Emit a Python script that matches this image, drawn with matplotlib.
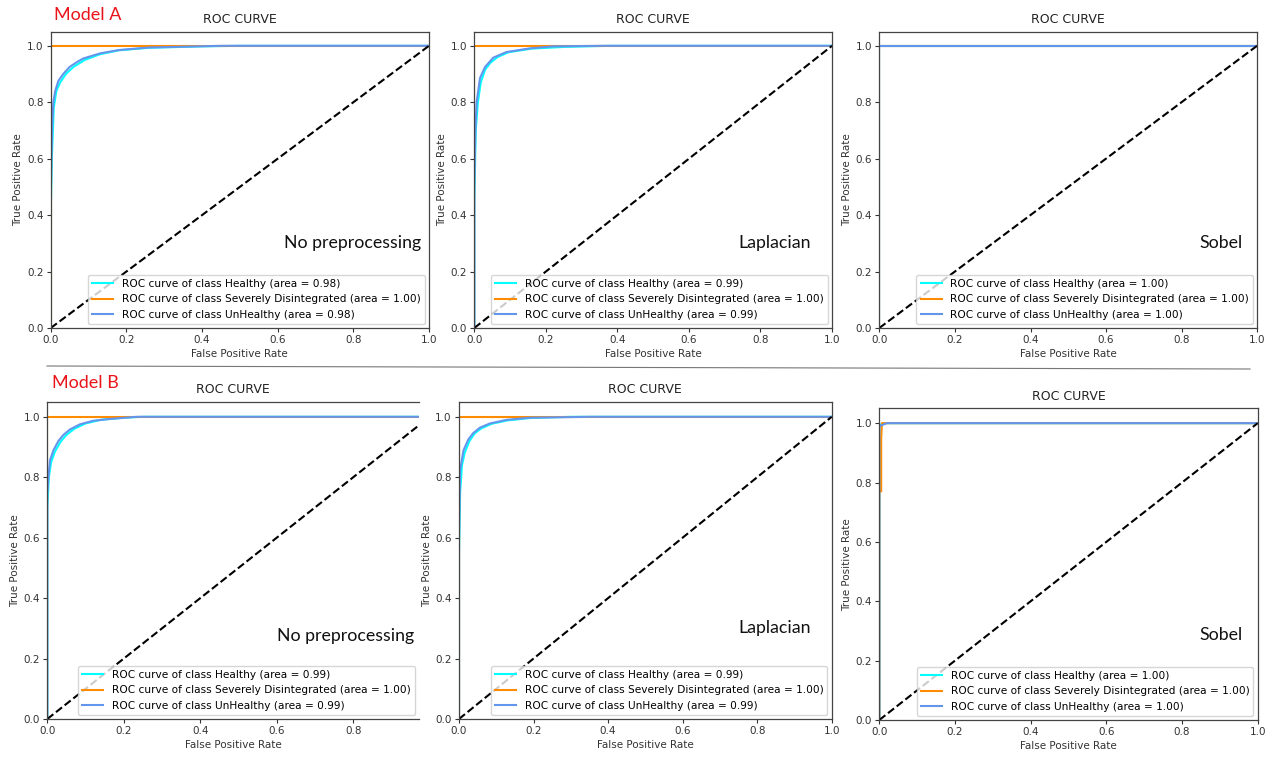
#!/usr/bin/env python3

import matplotlib
matplotlib.use('Agg')
import matplotlib.pyplot as plt
from matplotlib.lines import Line2D

W, H = 1277, 757

class_names = ['Healthy', 'Severely Disintegrated', 'UnHealthy']
class_colors = ['aqua', 'darkorange', 'cornflowerblue']
panel_notes = ['No preprocessing', 'Laplacian', 'Sobel']

areas_a = [[0.98, 1.00, 0.98], [0.99, 1.00, 0.99], [1.00, 1.00, 1.00]]
areas_b = [[0.99, 1.00, 0.99], [0.99, 1.00, 0.99], [1.00, 1.00, 1.00]]

# ROC points (fpr list, tpr list)
a_nopre_healthy = ([0, 0, 0.003, 0.008, 0.015, 0.025, 0.04, 0.06, 0.09, 0.13, 0.18, 0.26, 0.40, 0.50, 1.0],
                   [0, 0.40, 0.60, 0.78, 0.84, 0.87, 0.90, 0.925, 0.95, 0.97, 0.984, 0.993, 0.998, 1.0, 1.0])
a_nopre_severe = ([0, 0, 1.0], [0, 1.0, 1.0])
a_nopre_unhealthy = ([0, 0, 0.002, 0.004, 0.007, 0.012, 0.02, 0.033, 0.05, 0.07, 0.086, 0.13, 0.18, 0.26, 0.39, 0.45, 1.0],
                     [0, 0.45, 0.60, 0.72, 0.80, 0.84, 0.875, 0.90, 0.925, 0.943, 0.955, 0.973, 0.985, 0.994, 0.998, 1.0, 1.0])

a_lap_healthy = ([0, 0, 0.004, 0.01, 0.018, 0.03, 0.045, 0.065, 0.095, 0.16, 0.25, 0.38, 1.0],
                 [0, 0.45, 0.70, 0.80, 0.87, 0.915, 0.94, 0.96, 0.977, 0.99, 0.996, 1.0, 1.0])
a_lap_severe = ([0, 0, 1.0], [0, 1.0, 1.0])
a_lap_unhealthy = ([0, 0, 0.003, 0.0065, 0.016, 0.03, 0.053, 0.09, 0.156, 0.22, 0.35, 1.0],
                   [0, 0.50, 0.70, 0.80, 0.886, 0.925, 0.958, 0.978, 0.991, 0.998, 1.0, 1.0])

a_sob_healthy = ([0, 0, 1.0], [0, 1.0, 1.0])
a_sob_severe = ([0, 0, 1.0], [0, 1.0, 1.0])
a_sob_unhealthy = ([0, 0, 1.0], [0, 1.0, 1.0])

b_nopre_healthy = ([0, 0, 0.004, 0.01, 0.02, 0.035, 0.05, 0.07, 0.10, 0.14, 0.20, 0.25, 1.0],
                   [0, 0.70, 0.80, 0.85, 0.885, 0.918, 0.94, 0.96, 0.978, 0.99, 0.997, 1.0, 1.0])
b_nopre_severe = ([0, 0, 1.0], [0, 1.0, 1.0])
b_nopre_unhealthy = ([0, 0, 0.003, 0.007, 0.016, 0.029, 0.042, 0.059, 0.085, 0.12, 0.164, 0.234, 1.0],
                     [0, 0.75, 0.80, 0.856, 0.889, 0.92, 0.94, 0.958, 0.975, 0.987, 0.993, 1.0, 1.0])

b_lap_healthy = ([0, 0, 0.003, 0.008, 0.015, 0.028, 0.042, 0.06, 0.088, 0.13, 0.19, 0.30, 1.0],
                 [0, 0.55, 0.75, 0.84, 0.88, 0.92, 0.945, 0.962, 0.977, 0.988, 0.996, 1.0, 1.0])
b_lap_severe = ([0, 0, 1.0], [0, 1.0, 1.0])
b_lap_unhealthy = ([0, 0, 0.003, 0.012, 0.025, 0.038, 0.056, 0.083, 0.128, 0.19, 0.35, 1.0],
                   [0, 0.60, 0.823, 0.889, 0.925, 0.946, 0.964, 0.978, 0.99, 0.997, 1.0, 1.0])

b_sob_healthy = ([0, 0, 0.008, 1.0], [0, 0.99, 1.0, 1.0])
b_sob_severe = ([0, 0, 0.005, 0.005, 0.007, 1.0], [0, 0.77, 0.77, 0.95, 1.0, 1.0])
b_sob_unhealthy = ([0, 0, 0.01, 0.02, 1.0], [0, 0.99, 0.995, 1.0, 1.0])

curves_a = [[a_nopre_healthy, a_nopre_severe, a_nopre_unhealthy],
            [a_lap_healthy, a_lap_severe, a_lap_unhealthy],
            [a_sob_healthy, a_sob_severe, a_sob_unhealthy]]
curves_b = [[b_nopre_healthy, b_nopre_severe, b_nopre_unhealthy],
            [b_lap_healthy, b_lap_severe, b_lap_unhealthy],
            [b_sob_healthy, b_sob_severe, b_sob_unhealthy]]

# panel boxes in pixels: left, top, right, bottom
boxes_a = [(50.7, 31.7, 429, 328), (474.3, 31.7, 832, 328), (879.3, 31.5, 1257.3, 328)]
boxes_b = [(47.3, 401.7, 419, 719), (459, 401.7, 831.7, 719), (879.3, 408.3, 1257.7, 720)]
xmax_b = [0.972, 1.0, 1.0]
# where the method name sits (data coords)
note_pos_a = [(0.98, 0.30), (0.94, 0.30), (0.96, 0.30)]
note_pos_b = [(0.96, 0.275), (0.944, 0.30), (0.96, 0.287)]

plt.rcParams['font.size'] = 7.5
plt.rcParams['axes.linewidth'] = 0.9
plt.rcParams['axes.edgecolor'] = '#444444'
plt.rcParams['xtick.major.size'] = 2.6
plt.rcParams['ytick.major.size'] = 2.6
plt.rcParams['xtick.major.pad'] = 2.6
plt.rcParams['ytick.major.pad'] = 2.6
plt.rcParams['xtick.color'] = '#333333'
plt.rcParams['ytick.color'] = '#333333'

fig = plt.figure(figsize=(W / 100, H / 100), dpi=100)


def px_rect(box):
    l, t, r, b = box
    return [l / W, 1 - b / H, (r - l) / W, (b - t) / H]


def draw_panel(box, curves, areas, note, note_pos, xmax=1.0):
    ax = fig.add_axes(px_rect(box))
    for (fpr, tpr), name, color, area in zip(curves, class_names, class_colors, areas):
        ax.plot(fpr, tpr, color=color, lw=1.5,
                label='ROC curve of class {0} (area = {1:0.2f})'.format(name, area))
    ax.plot([0, 1], [0, 1], 'k--', lw=1.5)
    ax.set_xlim([0.0, xmax])
    ax.set_ylim([0.0, 1.05])
    ax.set_xlabel('False Positive Rate', color='#333333', labelpad=2.5)
    ax.set_ylabel('True Positive Rate', color='#333333', labelpad=2.5)
    ax.set_title('ROC CURVE', fontsize=9, color='#222222', pad=6)
    ax.legend(loc='lower right', fontsize=7.6, borderaxespad=0.4)
    if xmax < 1.0:
        ax.spines['right'].set_visible(False)
    ax.text(note_pos[0], note_pos[1], note, ha='right', va='center',
            fontsize=12.8, family='Lato', color='#111111')
    return ax


for i in range(3):
    draw_panel(boxes_a[i], curves_a[i], areas_a[i], panel_notes[i], note_pos_a[i])
    draw_panel(boxes_b[i], curves_b[i], areas_b[i], panel_notes[i], note_pos_b[i], xmax_b[i])

fig.text(54 / W, 1 - 15 / H, 'Model A', color='#e8141a', fontsize=13,
         family='Lato', ha='left', va='center')
fig.text(52 / W, 1 - 383 / H, 'Model B', color='#e8141a', fontsize=13,
         family='Lato', ha='left', va='center')

# thin rule between the two rows
fig.add_artist(Line2D([47 / W, 1250 / W], [1 - 366 / H, 1 - 369 / H],
                      transform=fig.transFigure, color='#777777', lw=0.8))

fig.savefig('out.png', dpi=100)
